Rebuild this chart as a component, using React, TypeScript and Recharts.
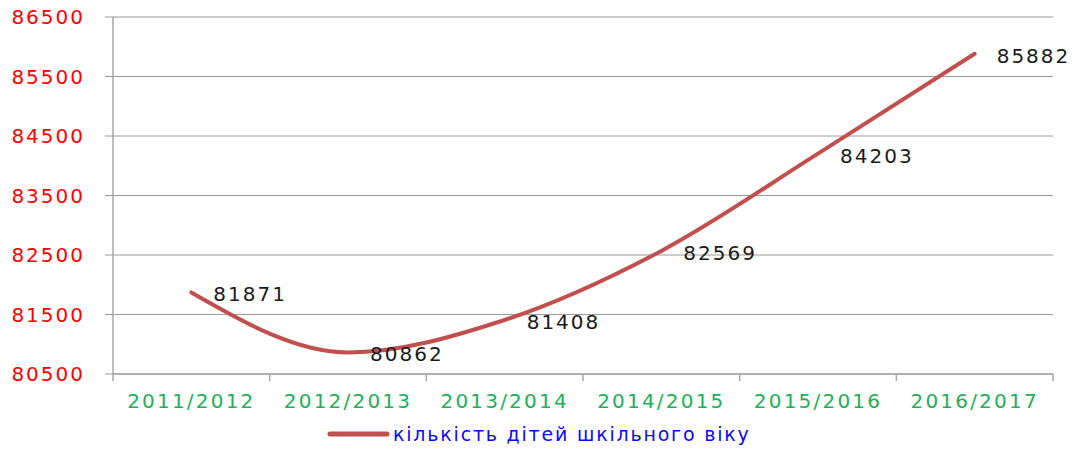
import React from "react";
import { LineChart, Line, XAxis, YAxis, CartesianGrid, LabelList, Legend } from "recharts";

const categories = ["2011/2012", "2012/2013", "2013/2014", "2014/2015", "2015/2016", "2016/2017"];
const children = [81871, 80862, 81408, 82569, 84203, 85882];
const yTicks = [80500, 81500, 82500, 83500, 84500, 85500, 86500];
const seriesName = "кількість дітей шкільного віку";

const data = categories.map((c, i) => ({ year: c, value: children[i] }));

const FONT = "'DejaVu Sans', Verdana, sans-serif";

const XTick = (props: any) => {
  const { x, y, payload, width, index } = props;
  const half = width / categories.length / 2;
  const axisY = y - 8;
  return (
    <g>
      <line x1={x - half} x2={x - half} y1={axisY} y2={axisY + 7} stroke="#A6A6A6" strokeWidth={1.5} />
      {index === categories.length - 1 && (
        <line x1={x + half} x2={x + half} y1={axisY} y2={axisY + 7} stroke="#A6A6A6" strokeWidth={1.5} />
      )}
      <text x={x} y={axisY + 34} textAnchor="middle" fill="#1EAF5A" fontSize={20} fontFamily={FONT} letterSpacing={2.2}>
        {payload.value}
      </text>
    </g>
  );
};

const YTick = (props: any) => {
  const { x, y, payload } = props;
  return (
    <text x={x - 18} y={y + 7} textAnchor="end" fill="#FF0000" fontSize={20} fontFamily={FONT} letterSpacing={2}>
      {payload.value}
    </text>
  );
};

const ValueLabel = (props: any) => {
  const { x, y, value } = props;
  return (
    <text x={x + 22} y={y + 9} fill="#1A1A1A" fontSize={20} fontFamily={FONT} letterSpacing={2}>
      {value}
    </text>
  );
};

const LegendContent = () => (
  <div style={{ position: "relative", height: 40 }}>
    <svg width={1081} height={40} style={{ position: "absolute", left: 0, top: 0 }}>
      <line x1={330} x2={387} y1={19} y2={19} stroke="#C0504D" strokeWidth={5} strokeLinecap="round" />
      <text x={393} y={26} fill="#0A0AF5" fontSize={19} fontFamily={FONT} letterSpacing={1.8}>
        {seriesName}
      </text>
    </svg>
  </div>
);

export default function App() {
  return (
    <div style={{ position: "absolute", left: 0, top: 0 }}>
      <LineChart width={1081} height={455} data={data} margin={{ top: 17, right: 28, left: 0, bottom: 0 }}>
        <CartesianGrid vertical={false} stroke="#9A9A9A" strokeWidth={1} />
        <XAxis
          dataKey="year"
          scale="band"
          height={41}
          axisLine={{ stroke: "#A6A6A6", strokeWidth: 1.5 }}
          tickLine={false}
          tick={<XTick />}
          interval={0}
        />
        <YAxis
          width={113}
          domain={[80500, 86500]}
          ticks={yTicks}
          interval={0}
          axisLine={{ stroke: "#A6A6A6", strokeWidth: 1.5 }}
          tickLine={{ stroke: "#9A9A9A" }}
          tickSize={8}
          tick={<YTick />}
        />
        <Legend verticalAlign="bottom" height={40} content={<LegendContent />} />
        <Line
          type="monotone"
          dataKey="value"
          name={seriesName}
          stroke="#C0504D"
          strokeWidth={4}
          strokeLinecap="round"
          dot={false}
          activeDot={false}
          isAnimationActive={false}
        >
          <LabelList dataKey="value" content={<ValueLabel />} />
        </Line>
      </LineChart>
    </div>
  );
}
